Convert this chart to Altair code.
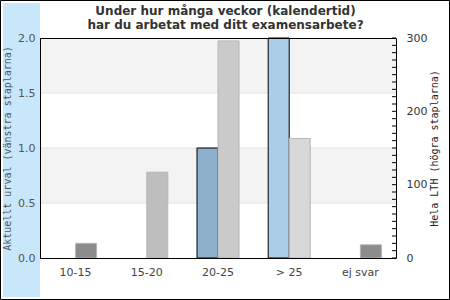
import altair as alt
import pandas as pd

categories = ["10-15", "15-20", "20-25", "> 25", "ej svar"]
urval = [0, 0, 1, 2, 0]            # Aktuellt urval (left bars, left axis)
lth = [20, 117, 296, 163, 18]      # Hela LTH (right bars, right axis)
title_lines = ["Under hur många veckor (kalendertid)", "har du arbetat med ditt examensarbete?"]

left_colors = ["#8fb0cb", "#8fb0cb", "#8fb0cb", "#abcde8", "#8fb0cb"]
right_colors = ["#8c8c8c", "#bebebe", "#cacaca", "#d8d8d8", "#8c8c8c"]

band_lo = [0.5, 1.5]
band_hi = [1.0, 2.0]
grid_vals = [0.5, 1.0, 1.5]
right_tick_vals = list(range(0, 301, 10))

W, H = 356, 220

df = pd.DataFrame({"cat": categories, "urval": urval, "lth": lth})
bands = pd.DataFrame({"lo": band_lo, "hi": band_hi})
grid = pd.DataFrame({"v": grid_vals})
ticks = pd.DataFrame({"v": right_tick_vals})
one = pd.DataFrame({"k": [0]})

xenc = alt.X("cat:N", sort=categories, title=None,
             scale=alt.Scale(paddingInner=0, paddingOuter=0),
             axis=alt.Axis(labelAngle=0, ticks=False, domain=False, labelPadding=8,
                           labelFont="DejaVu Sans", labelFontSize=11, labelColor="#444"))

yleft_scale = alt.Scale(domain=[0, 2], nice=False)
yright_scale = alt.Scale(domain=[0, 300], nice=False)

left_axis = alt.Axis(orient="left", values=[0, 0.5, 1, 1.5, 2], format=".1f", grid=False,
                     ticks=False, domain=True, domainColor="#000", domainWidth=1,
                     labelPadding=5, labelFont="DejaVu Sans",
                     labelFontSize=11, labelColor="#555", zindex=1,
                     title="Aktuellt urval (vänstra staplarna)", titleFont="DejaVu Sans Mono",
                     titleFontSize=10, titleFontWeight="normal", titleColor="#555",
                     titleX=-32.5, titleY=H / 2, titleAngle=270, titleAlign="center",
                     titleBaseline="middle")
right_axis = alt.Axis(orient="right", values=[0, 50, 100, 150, 200, 250, 300], grid=False,
                      ticks=False, domain=True, domainColor="#000", domainWidth=1,
                      labelPadding=10, labelFont="DejaVu Sans",
                      labelFontSize=11, labelColor="#333", zindex=1,
                      title="Hela LTH (högra staplarna)", titleFont="DejaVu Sans Mono",
                      titleFontSize=10, titleFontWeight="normal", titleColor="#222",
                      titleX=38, titleY=H / 2, titleAngle=270, titleAlign="center",
                      titleBaseline="middle")

strip = alt.Chart(one).mark_rect(color="#c8e7fb").encode(
    x=alt.value(-37), x2=alt.value(0), y=alt.value(-35), y2=alt.value(259))
border = alt.Chart(one).mark_rect(fill=None, stroke="#000", strokeWidth=1).encode(
    x=alt.value(-39.5), x2=alt.value(409.5), y=alt.value(-37.5), y2=alt.value(261.5))
title_mark = alt.Chart(one).mark_text(
    text=title_lines, font="DejaVu Sans", fontSize=12, fontWeight="bold", color="#333",
    lineHeight=14, align="center", baseline="middle").encode(
    x=alt.value(185.5), y=alt.value(-27))

band_layer = alt.Chart(bands).mark_rect(color="#f3f3f3").encode(
    x=alt.value(0), x2=alt.value(W),
    y=alt.Y("lo:Q", scale=yleft_scale, axis=left_axis), y2="hi:Q")
grid_layer = alt.Chart(grid).mark_rule(color="#e2e2e2", strokeWidth=1).encode(
    x=alt.value(0), x2=alt.value(W), y=alt.Y("v:Q", scale=yleft_scale))
left_bars = alt.Chart(df).transform_filter("datum.urval > 0").mark_bar(
    width=21, xOffset=-10.5, stroke="#000", strokeWidth=1).encode(
    x=xenc,
    y=alt.Y("urval:Q", scale=yleft_scale),
    color=alt.Color("cat:N", scale=alt.Scale(domain=categories, range=left_colors), legend=None))

left_layer = alt.layer(band_layer, grid_layer, left_bars)

right_bars = alt.Chart(df).mark_bar(width=21, xOffset=10.5, stroke="#b5b5b5", strokeWidth=1).encode(
    x=xenc,
    y=alt.Y("lth:Q", scale=yright_scale, axis=right_axis),
    fill=alt.Fill("cat:N", scale=alt.Scale(domain=categories, range=right_colors), legend=None))
tick_layer = alt.Chart(ticks).mark_rule(color="#000", strokeWidth=1).encode(
    x=alt.value(W - 4), x2=alt.value(W), y=alt.Y("v:Q", scale=yright_scale))

right_layer = alt.layer(right_bars, tick_layer)

frame_top = alt.Chart(one).mark_rule(color="#000", strokeWidth=1).encode(
    x=alt.value(0), x2=alt.value(W + 0.5), y=alt.value(0.5))
frame_bottom = alt.Chart(one).mark_rule(color="#000", strokeWidth=1).encode(
    x=alt.value(0), x2=alt.value(W + 0.5), y=alt.value(H + 0.5))

chart = alt.layer(strip, border, title_mark, left_layer, right_layer,
                  frame_top, frame_bottom).resolve_scale(
    y="independent", color="independent"
).properties(
    width=W, height=H,
    autosize=alt.AutoSizeParams(type="none"),
    padding={"left": 40, "top": 38, "right": 54, "bottom": 42},
).configure(background="#fff").configure_view(stroke=None)

chart.save("out.html", embed_options={"renderer": "svg", "actions": False})
